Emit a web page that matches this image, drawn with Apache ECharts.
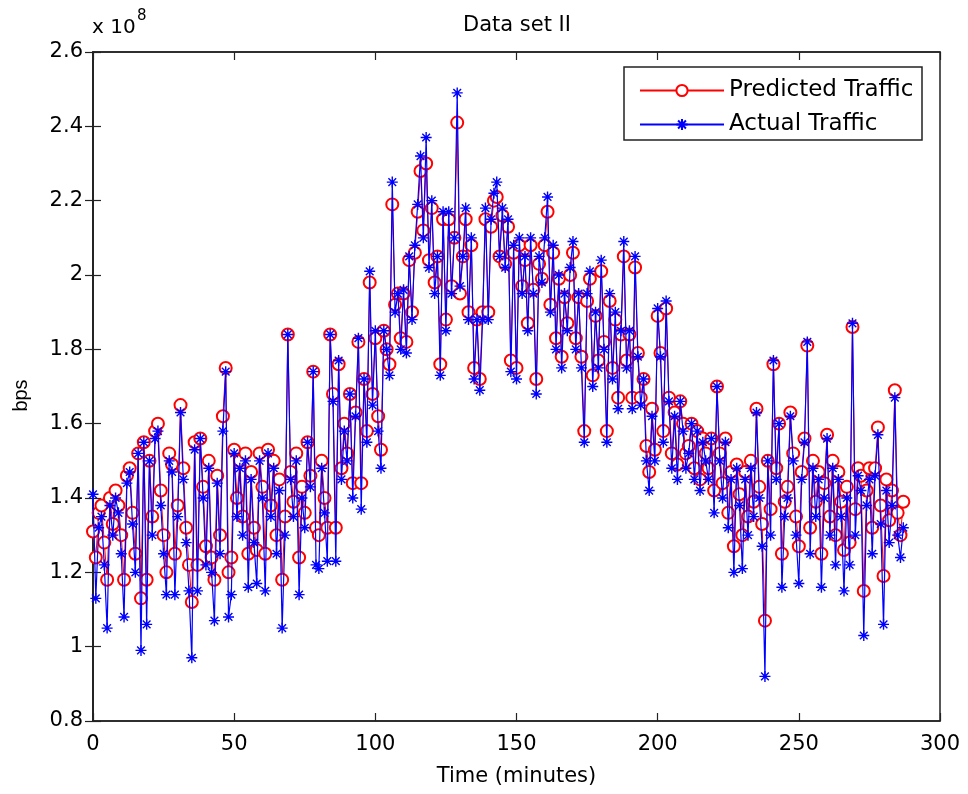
<!DOCTYPE html>
<html>
<head>
<meta charset="utf-8">
<script src="https://cdn.jsdelivr.net/npm/echarts@6/dist/echarts.min.js"></script>
<style>html,body{margin:0;padding:0;background:#fff}#c{width:968px;height:794px}</style>
</head>
<body>
<div id="c"></div>
<script>
// Time axis (minutes)
const xTicks = [0, 50, 100, 150, 200, 250, 300];
const yTicks = [0.8, 1, 1.2, 1.4, 1.6, 1.8, 2, 2.2, 2.4, 2.6];
// Actual traffic (x 1e8 bps), one sample per minute from 0
const actual = [
1.41,1.13,1.32,1.35,1.22,1.05,1.38,1.30,1.40,1.36,
1.25,1.08,1.44,1.47,1.33,1.20,1.52,0.99,1.55,1.06,
1.50,1.30,1.56,1.58,1.38,1.25,1.14,1.50,1.47,1.14,
1.35,1.63,1.45,1.28,1.15,0.97,1.53,1.15,1.56,1.40,
1.22,1.48,1.20,1.07,1.44,1.25,1.58,1.74,1.08,1.14,
1.52,1.35,1.48,1.30,1.50,1.16,1.45,1.28,1.17,1.50,
1.40,1.15,1.52,1.35,1.48,1.25,1.42,1.05,1.30,1.84,
1.45,1.35,1.50,1.14,1.40,1.32,1.55,1.43,1.74,1.22,
1.21,1.48,1.36,1.23,1.84,1.66,1.23,1.77,1.45,1.58,
1.50,1.68,1.40,1.62,1.83,1.37,1.72,1.55,2.01,1.65,
1.85,1.58,1.48,1.85,1.80,1.73,2.25,1.90,1.95,1.80,
1.96,1.79,2.05,1.88,2.08,2.19,2.32,2.10,2.37,2.02,
2.20,1.95,2.05,1.73,2.17,1.85,2.17,1.95,2.10,2.49,
1.97,2.05,2.18,1.88,2.10,1.72,1.88,1.69,1.88,2.18,
1.88,2.15,2.22,2.25,2.05,2.18,2.02,2.15,1.74,2.08,
1.72,2.10,1.95,2.05,1.85,2.10,1.95,1.68,2.05,1.98,
2.10,2.21,1.90,2.08,1.80,2.00,1.75,1.95,1.85,2.02,
2.09,1.80,1.95,1.75,1.55,1.95,2.01,1.70,1.90,1.75,
2.04,1.80,1.55,1.95,1.72,1.90,1.64,1.85,2.09,1.75,
1.85,1.64,2.05,1.78,1.65,1.72,1.50,1.42,1.62,1.50,
1.91,1.78,1.55,1.93,1.66,1.48,1.62,1.45,1.66,1.58,
1.48,1.52,1.60,1.45,1.58,1.42,1.55,1.50,1.45,1.56,
1.36,1.70,1.50,1.40,1.55,1.32,1.45,1.20,1.48,1.38,
1.21,1.45,1.30,1.48,1.35,1.63,1.40,1.27,0.92,1.50,
1.30,1.77,1.45,1.60,1.16,1.35,1.40,1.62,1.50,1.30,
1.17,1.45,1.55,1.82,1.25,1.48,1.35,1.45,1.16,1.40,
1.56,1.30,1.48,1.22,1.45,1.35,1.15,1.40,1.22,1.87,
1.30,1.46,1.42,1.03,1.38,1.45,1.25,1.46,1.57,1.33,
1.06,1.42,1.28,1.38,1.67,1.30,1.24,1.32
];
// Predicted traffic (x 1e8 bps)
const predicted = [
1.31,1.24,1.36,1.38,1.28,1.18,1.40,1.33,1.42,1.38,
1.30,1.18,1.46,1.48,1.36,1.25,1.52,1.13,1.55,1.18,
1.50,1.35,1.58,1.60,1.42,1.30,1.20,1.52,1.49,1.25,
1.38,1.65,1.48,1.32,1.22,1.12,1.55,1.22,1.56,1.43,
1.27,1.50,1.24,1.18,1.46,1.30,1.62,1.75,1.20,1.24,
1.53,1.40,1.50,1.35,1.52,1.25,1.47,1.32,1.26,1.52,
1.43,1.25,1.53,1.38,1.50,1.30,1.45,1.18,1.35,1.84,
1.47,1.39,1.52,1.24,1.43,1.36,1.55,1.46,1.74,1.32,
1.30,1.50,1.40,1.32,1.84,1.68,1.32,1.76,1.48,1.60,
1.52,1.68,1.44,1.63,1.82,1.44,1.72,1.58,1.98,1.68,
1.83,1.62,1.53,1.85,1.80,1.76,2.19,1.92,1.95,1.83,
1.95,1.82,2.04,1.90,2.06,2.17,2.28,2.12,2.30,2.04,
2.18,1.98,2.05,1.76,2.15,1.88,2.15,1.97,2.10,2.41,
1.95,2.05,2.15,1.90,2.08,1.75,1.88,1.72,1.90,2.15,
1.90,2.13,2.20,2.21,2.05,2.16,2.03,2.13,1.77,2.06,
1.75,2.08,1.97,2.04,1.87,2.08,1.96,1.72,2.03,1.99,
2.08,2.17,1.92,2.06,1.83,1.99,1.78,1.94,1.87,2.00,
2.06,1.83,1.94,1.78,1.58,1.93,1.99,1.73,1.89,1.77,
2.01,1.82,1.58,1.93,1.75,1.88,1.67,1.84,2.05,1.77,
1.84,1.67,2.02,1.79,1.67,1.72,1.54,1.47,1.64,1.53,
1.89,1.79,1.58,1.91,1.67,1.52,1.63,1.49,1.66,1.60,
1.52,1.54,1.60,1.48,1.58,1.45,1.56,1.52,1.48,1.56,
1.42,1.70,1.52,1.44,1.56,1.36,1.47,1.27,1.49,1.41,
1.30,1.47,1.35,1.50,1.39,1.64,1.43,1.33,1.07,1.50,
1.37,1.76,1.48,1.60,1.25,1.39,1.43,1.63,1.52,1.35,
1.27,1.47,1.56,1.81,1.32,1.50,1.39,1.47,1.25,1.44,
1.57,1.35,1.50,1.30,1.47,1.39,1.26,1.43,1.28,1.86,
1.37,1.48,1.46,1.15,1.42,1.48,1.32,1.48,1.59,1.38,
1.19,1.45,1.34,1.42,1.69,1.36,1.30,1.39
];
const seriesNames = ['Predicted Traffic', 'Actual Traffic'];

const FONT = '"DejaVu Sans", Verdana, sans-serif';
const FONT_V = '"Liberation Sans", Arial, sans-serif';
const predData = predicted.map((v, i) => [i, v]);
const actData = actual.map((v, i) => [i, v]);
const starPath = 'path://M0,-5L0,5M-5,0L5,0M-3.5,-3.5L3.5,3.5M-3.5,3.5L3.5,-3.5';

const chart = echarts.init(document.getElementById('c'), null, {renderer: 'canvas'});
const fmt = v => String(+(+v).toFixed(1));
const baseX = {type: 'value', min: xTicks[0], max: xTicks[xTicks.length - 1], interval: xTicks[1] - xTicks[0]};
const baseY = {type: 'value', min: yTicks[0], max: yTicks[yTicks.length - 1], interval: 0.2};
const tick = {show: true, inside: true, length: 8, lineStyle: {color: '#222', width: 1.2}};
const aline = {show: true, lineStyle: {color: '#222', width: 1.5}};
chart.setOption({
  animation: false,
  backgroundColor: '#fff',
  title: {text: 'Data set II', left: 512, top: 10, textAlign: 'center',
    textStyle: {fontFamily: FONT, fontSize: 21, fontWeight: 'normal', color: '#000'}},
  grid: {left: 93, right: 28, top: 52, bottom: 73, show: true, borderColor: '#222', borderWidth: 1.5},
  xAxis: [
    Object.assign({}, baseX, {position: 'bottom',
      name: 'Time (minutes)', nameLocation: 'middle', nameGap: 45,
      nameTextStyle: {fontFamily: FONT, fontSize: 21, color: '#000'},
      axisLine: aline, axisTick: tick,
      axisLabel: {fontFamily: FONT, fontSize: 21, color: '#000', margin: 13},
      splitLine: {show: false}}),
    Object.assign({}, baseX, {position: 'top',
      axisLine: aline, axisTick: tick,
      axisLabel: {show: false}, splitLine: {show: false}})
  ],
  yAxis: [
    Object.assign({}, baseY, {position: 'left',
      name: 'bps', nameLocation: 'middle', nameGap: 62, nameRotate: 90,
      nameTextStyle: {fontFamily: FONT_V, fontSize: 20, color: '#000', padding: [0, 18, 0, 0]},
      axisLine: aline, axisTick: tick,
      axisLabel: {fontFamily: FONT, fontSize: 21, color: '#000', margin: 10, formatter: fmt},
      splitLine: {show: false}}),
    Object.assign({}, baseY, {position: 'right',
      axisLine: aline, axisTick: tick,
      axisLabel: {show: false}, splitLine: {show: false}})
  ],
  legend: {
    data: seriesNames, orient: 'vertical', left: 634, top: 74,
    itemWidth: 84, itemHeight: 14, itemGap: 11,
    textStyle: {fontFamily: FONT, fontSize: 23, color: '#000'},
    z: 6
  },
  graphic: [
    {type: 'rect', z: 5, shape: {x: 624, y: 67, width: 298, height: 73},
      style: {fill: '#fff', stroke: '#222', lineWidth: 1.5}},
    {type: 'text', z: 5, left: 92, top: 18, style: {text: 'x 10', fontFamily: FONT, fontSize: 20, fill: '#000'}},
    {type: 'text', z: 5, left: 137, top: 9, style: {text: '8', fontFamily: FONT, fontSize: 15, fill: '#000'}}
  ],
  series: [
    {name: seriesNames[0], type: 'line', data: predData, z: 2,
      symbol: 'emptyCircle', symbolSize: 12, showAllSymbol: true,
      lineStyle: {color: '#ff0000', width: 1},
      itemStyle: {color: '#ff0000', borderColor: '#ff0000', borderWidth: 1.2}},
    {name: seriesNames[1], type: 'line', data: actData, z: 3,
      symbol: starPath, symbolSize: 11, showAllSymbol: true,
      lineStyle: {color: '#0000ff', width: 1.2},
      itemStyle: {color: '#0000ff', borderColor: '#0000ff', borderWidth: 1.4}}
  ]
});
</script>
</body>
</html>
